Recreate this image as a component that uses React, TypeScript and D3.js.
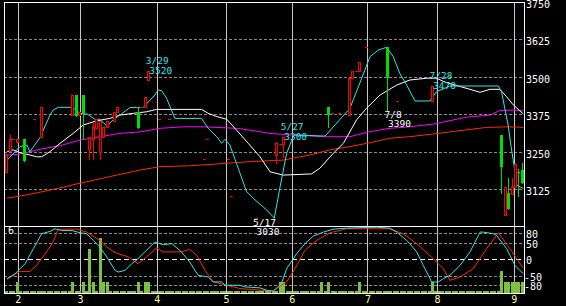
import React from "react";
import * as d3 from "d3";

const W = 566;
const H = 306;

// Trading-day index (0 = 2010-01-26). Candles: open / high / low / close
const candleIdx = [1, 2, 3, 4, 6, 9, 11, 20, 21, 22, 23, 25, 26, 27, 28, 29, 30, 32, 33, 39, 40, 41, 42, 44, 45, 48, 58, 59, 65, 66, 73, 79, 80, 81, 94, 95, 97, 100, 101, 102, 103, 105, 111, 114, 124, 144, 145, 146, 147, 148, 149, 150];
const candleOpen = [3185, 3255, 3295, 3285, 3295, 3360, 3300, 3375, 3440, 3375, 3440, 3260, 3295, 3330, 3250, 3300, 3335, 3355, 3385, 3385, 3400, 3400, 3490, 3500, 3360, 3360, 3225, 3295, 3225, 3105, 3030, 3240, 3275, 3275, 3400, 3380, 3380, 3375, 3495, 3520, 3520, 3600, 3600, 3420, 3420, 3305, 3040, 3115, 3110, 3135, 3185, 3190];
const candleHigh = [3245, 3305, 3295, 3295, 3295, 3360, 3400, 3440, 3440, 3385, 3440, 3300, 3350, 3360, 3355, 3335, 3355, 3385, 3400, 3400, 3400, 3435, 3520, 3500, 3360, 3360, 3225, 3295, 3225, 3105, 3030, 3285, 3275, 3300, 3400, 3380, 3380, 3495, 3520, 3520, 3550, 3600, 3600, 3420, 3470, 3305, 3135, 3165, 3165, 3210, 3195, 3215];
const candleLow = [3185, 3255, 3295, 3285, 3220, 3360, 3300, 3375, 3370, 3375, 3295, 3225, 3225, 3330, 3225, 3300, 3335, 3355, 3385, 3330, 3400, 3400, 3490, 3500, 3360, 3360, 3225, 3295, 3225, 3105, 3030, 3215, 3275, 3235, 3335, 3380, 3380, 3375, 3495, 3520, 3520, 3600, 3390, 3420, 3420, 3115, 3040, 3060, 3110, 3135, 3105, 3145];
const candleClose = [3245, 3295, 3295, 3295, 3220, 3360, 3400, 3440, 3370, 3385, 3380, 3300, 3335, 3360, 3355, 3335, 3355, 3385, 3400, 3330, 3400, 3435, 3520, 3500, 3360, 3360, 3225, 3295, 3225, 3105, 3030, 3280, 3275, 3300, 3375, 3380, 3380, 3495, 3520, 3520, 3550, 3600, 3495, 3420, 3470, 3200, 3135, 3060, 3135, 3210, 3180, 3145];

// Moving averages [day index, price]
const maFast: [number, number][] = [[1.2, 3223], [4.9, 3268], [6.9, 3273], [7.8, 3251], [10.7, 3298], [13.6, 3373], [14.5, 3390], [16, 3399], [19.9, 3399], [22.3, 3379], [24.4, 3376], [26.6, 3359], [28, 3359], [30, 3337], [31.9, 3357], [36.7, 3398], [38.6, 3399], [40.5, 3398], [43.9, 3440], [44.9, 3457], [45.9, 3454], [47.3, 3429], [48.3, 3401], [49.7, 3362], [57.4, 3362], [59.3, 3329], [61.8, 3301], [63.2, 3279], [64.2, 3292], [65.6, 3273], [67.5, 3212], [70.4, 3118], [72.3, 3096], [76.2, 3057], [78.1, 3034], [78.4, 3029], [80.1, 3134], [82, 3246], [83.9, 3301], [84.4, 3307], [93.1, 3303], [100.3, 3396], [103.7, 3496], [106.1, 3568], [108.5, 3590], [110.9, 3599], [112.8, 3568], [114.7, 3512], [116.7, 3473], [119.1, 3420], [123.4, 3420], [125.3, 3451], [129.2, 3470], [143.2, 3470], [144.1, 3451], [146, 3340], [146.8, 3273], [147.7, 3207], [148.5, 3140], [150.4, 3128]];
const maMid: [number, number][] = [[1.2, 3251], [3, 3257], [4.9, 3248], [7.8, 3240], [9.7, 3234], [11.2, 3234], [13.6, 3251], [16.5, 3279], [20.3, 3312], [23.2, 3340], [27.1, 3354], [30.9, 3362], [33.8, 3373], [37.7, 3379], [41.5, 3384], [44.4, 3392], [57.4, 3392], [59.3, 3379], [61.8, 3368], [64.7, 3359], [67.5, 3323], [70.9, 3279], [74.3, 3234], [77.2, 3184], [81, 3173], [89.2, 3177], [91.6, 3196], [95.5, 3246], [98.4, 3279], [102.2, 3357], [105.1, 3396], [109, 3440], [113.8, 3473], [117.6, 3490], [122.5, 3496], [125.3, 3496], [128.2, 3481], [131.6, 3470], [135, 3459], [137.9, 3449], [140.8, 3459], [143.6, 3459], [145.6, 3434], [147.5, 3407], [150.4, 3377]];
const maSlow: [number, number][] = [[1.2, 3240], [4.9, 3243], [7.8, 3251], [10.7, 3259], [16.5, 3271], [22.3, 3290], [28, 3301], [33.8, 3312], [39.6, 3317], [45.4, 3329], [52.1, 3334], [57.9, 3334], [67.5, 3329], [71.4, 3323], [77.2, 3312], [82.9, 3307], [92.6, 3301], [100.3, 3301], [106.1, 3318], [111.8, 3329], [117.6, 3334], [124.4, 3343], [134, 3366], [140.8, 3373], [143.6, 3388], [147.5, 3390], [150.4, 3387]];
const maLong: [number, number][] = [[1.2, 3096], [6.9, 3107], [13.6, 3123], [22.3, 3146], [30.9, 3168], [39.6, 3190], [45.4, 3201], [54, 3204], [61.8, 3210], [71.4, 3218], [81, 3223], [85.8, 3234], [88.7, 3240], [94.5, 3257], [100.3, 3268], [106.1, 3281], [111.8, 3296], [117.6, 3301], [124.4, 3310], [132.1, 3321], [139.8, 3332], [146.5, 3334], [150.4, 3332]];

// Oscillator (lower panel) [day index, value]
const oscFast: [number, number][] = [[1.2, -58], [3.5, -43], [6.4, -13], [8.8, 33], [11.2, 78], [13.6, 85], [15, 93], [17, 88], [19.9, 88], [22.3, 81], [24.2, 78], [26.1, 58], [28, 38], [30, 8], [32.4, -33], [33.3, -38], [35.3, -33], [37.2, -13], [38.6, -2], [41, 23], [43.9, 53], [46.3, 45], [48.8, 48], [51.6, 23], [54, -8], [56.4, -48], [59.3, -53], [60.8, -68], [63.2, -68], [64.2, -78], [68.5, -78], [69.9, -83], [74.3, -86], [76.2, -93], [78.1, -96], [80.5, -73], [82, -28], [84.9, 18], [87.3, 48], [89.7, 71], [92.6, 83], [95.5, 92], [99.3, 95], [108, 98], [111.8, 95], [113.8, 83], [116.7, 58], [119.6, 23], [121.5, -18], [123.9, -68], [125.8, -68], [127.3, -58], [129.2, -48], [132.1, -18], [135, 23], [137.9, 83], [138.8, 83], [141.7, 78], [142.7, 73], [145.6, 33], [148, -18], [149.4, -33], [150.4, -43]];
const oscSlow: [number, number][] = [[1.2, -60], [4.9, -36], [7.8, -36], [9.7, -18], [12.6, 23], [14.5, 53], [16, 92], [21.3, 92], [24.2, 83], [28, 58], [30, 38], [32.4, 21], [36.2, 8], [39.1, -13], [41.5, 8], [44.4, 35], [46.3, 23], [51.6, 23], [54, 31], [56, 13], [58.4, -33], [60.8, -68], [64.7, -78], [68.5, -88], [74.3, -93], [78.1, -96], [80.5, -78], [82, -68], [84.4, -28], [87.3, 28], [90.7, 58], [94.5, 81], [99.3, 93], [111.8, 93], [115.7, 78], [119.6, 48], [124.4, 2], [127.3, -28], [129.2, -63], [132.1, -53], [135.9, -28], [139.8, 33], [143.2, 81], [146.5, 33], [148.5, 2], [150.4, -26]];

// Volume (units of the lower-panel scale 0..6)
const volIdx = [4, 20, 23, 25, 26, 28, 29, 30, 39, 41, 42, 80, 81, 92, 94, 103, 124, 144, 145, 146, 147, 148, 149, 150];
const volVal = [1, 1, 1, 4, 1, 5, 1, 1, 1, 1, 1, 1, 1, 1, 1, 1, 1, 2, 1, 1, 1, 1, 1, 1];

// Month boundaries (day index) and labels
const monthPos = [4.4, 22.4, 44.6, 64.6, 83.6, 105.5, 125.6, 147.8];
const monthLabels = ["2", "3", "4", "5", "6", "7", "8", "9"];

const priceTicks = [3750, 3625, 3500, 3375, 3250, 3125];
const oscTicks = [80, 50, 0, -50, -80];

// Annotations: index, price, kind, date text
const noteIdx = [42, 73, 81, 111, 124];
const notePrice = [3520, 3030, 3300, 3390, 3470];
const noteKind = ["high", "low", "high", "low", "high"];
const noteDate = ["3/29", "5/17", "5/27", "7/8", "7/28"];

const FONT = "'DejaVu Sans Mono', monospace";

export default function App() {
  const L = 4, R = 524, T = 2, MB = 226, LB = 293;
  const x = d3.scaleLinear().domain([0.3, 150.6]).range([L, R]);
  const y = d3.scaleLinear().domain([3000, 3750]).range([227, T]);
  const yo = d3.scaleLinear().domain([-100, 100]).range([292.5, 226.5]);
  const yv = d3.scaleLinear().domain([0, 6]).range([LB, 227]);
  const px = (v: number) => Math.floor(v) + 0.5;

  const mainLine = d3.line<[number, number]>().x((d) => x(d[0])).y((d) => y(d[1]));
  const oscLine = d3.line<[number, number]>().x((d) => x(d[0])).y((d) => yo(d[1]));

  const days = d3.range(1, 151);
  const volMap = new Map<number, number>();
  volIdx.forEach((d, k) => volMap.set(d, volVal[k]));

  return (
    <div style={{ position: "fixed", left: 0, top: 0, width: W, height: H, background: "#000" }}>
      <svg width={W} height={H} style={{ display: "block" }}>
        <defs>
          <clipPath id="mainClip">
            <rect x={L} y={T} width={R - L} height={MB - T} />
          </clipPath>
          <clipPath id="oscClip">
            <rect x={L} y={MB} width={R - L} height={LB - MB} />
          </clipPath>
        </defs>
        <rect x={0} y={0} width={W} height={H} fill="#000" />

        {priceTicks.slice(1).map((t) => (
          <line key={"g" + t} x1={L} x2={R} y1={px(y(t))} y2={px(y(t))} stroke="#8a8a8a" strokeDasharray="3,2" />
        ))}
        {oscTicks.map((t) => (
          <line key={"o" + t} x1={L} x2={R} y1={px(yo(t))} y2={px(yo(t))} stroke={t === 0 ? "#ffffff" : "#8a8a8a"} strokeDasharray={t === 0 ? "5,3" : "3,2"} />
        ))}
        {monthPos.map((m, k) => (
          <line key={"m" + k} x1={px(x(m))} x2={px(x(m))} y1={T} y2={LB} stroke="#c8c8c8" />
        ))}

        <g clipPath="url(#oscClip)">
          {days.map((d) => {
            const v = volMap.get(d) || 0;
            const top = Math.round(Math.min(yv(v), LB - 2));
            const cx = Math.round(x(d));
            return <rect key={"v" + d} x={cx - 1} y={top} width={3} height={LB - top} fill="#80c040" />;
          })}
          <path d={oscLine(oscSlow) || ""} fill="none" stroke="#ff2a00" strokeWidth={1} />
          <path d={oscLine(oscFast) || ""} fill="none" stroke="#33e6e6" strokeWidth={1} />
        </g>

        <g clipPath="url(#mainClip)">
          <path d={mainLine(maLong) || ""} fill="none" stroke="#ff2a00" strokeWidth={1} />
          <path d={mainLine(maSlow) || ""} fill="none" stroke="#ff00ff" strokeWidth={1} />
          <path d={mainLine(maMid) || ""} fill="none" stroke="#ffffff" strokeWidth={1} />
          <path d={mainLine(maFast) || ""} fill="none" stroke="#33e6e6" strokeWidth={1} />

          {candleIdx.map((d, k) => {
            const o = candleOpen[k], h = candleHigh[k], l = candleLow[k], c = candleClose[k];
            const cx = Math.round(x(d));
            if (o === c && h === l) {
              return <rect key={"c" + k} x={cx - 1} y={Math.round(y(c))} width={3} height={1} fill="#ff0000" />;
            }
            const up = c >= o;
            const bTop = Math.round(y(Math.max(o, c)));
            const bBot = Math.round(y(Math.min(o, c)));
            const col = up ? "#ff0000" : "#00dd00";
            const hy = Math.round(y(h));
            const ly = Math.round(y(l));
            return (
              <g key={"c" + k}>
                <line x1={cx + 0.5} x2={cx + 0.5} y1={hy} y2={ly + 1} stroke={col} strokeWidth={1} />
                {up ? (
                  <rect x={cx - 0.5} y={bTop + 0.5} width={2} height={Math.max(1, bBot - bTop)} fill="#000" stroke={col} strokeWidth={1} />
                ) : (
                  <rect x={cx - 1} y={bTop} width={3} height={Math.max(1, bBot - bTop)} fill={col} />
                )}
              </g>
            );
          })}
        </g>

        {noteIdx.map((d, k) => {
          const cx = x(d);
          const py = y(notePrice[k]);
          const high = noteKind[k] === "high";
          const col = high ? "#33e6e6" : "#ffffff";
          const y1 = high ? py - 7 : py + 7.5;
          const y2 = high ? py + 2.5 : py + 17;
          return (
            <g key={"n" + k} fontFamily={FONT} fontSize={9.5} fill={col}>
              <text x={cx - 2.5} y={y1}>{noteDate[k]}</text>
              <text x={cx + 1} y={y2}>{notePrice[k]}</text>
            </g>
          );
        })}

        <rect x={L + 0.5} y={T + 0.5} width={R - L} height={MB - T} fill="none" stroke="#ffffff" />
        <rect x={L + 0.5} y={MB + 0.5} width={R - L} height={LB - MB} fill="none" stroke="#ffffff" />

        {priceTicks.map((t) => (
          <text key={"pt" + t} x={526} y={y(t) + 2} dominantBaseline="central" fill="#ffffff" fontFamily={FONT} fontSize={10}>
            {t}
          </text>
        ))}
        {oscTicks.map((t) => (
          <text key={"ot" + t} x={t < 0 ? 524 : 526} y={yo(t) + 1} dominantBaseline="central" fill="#ffffff" fontFamily={FONT} fontSize={10}>
            {t}
          </text>
        ))}
        <text x={8} y={230.5} dominantBaseline="central" fill="#ffffff" fontFamily={FONT} fontSize={10}>
          {yv.domain()[1]}
        </text>

        {monthPos.map((m, k) => (
          <text key={"ml" + k} x={x(m)} y={299} textAnchor="middle" dominantBaseline="central" fill="#ffff99" fontFamily={FONT} fontSize={10}>
            {monthLabels[k]}
          </text>
        ))}
      </svg>
    </div>
  );
}
